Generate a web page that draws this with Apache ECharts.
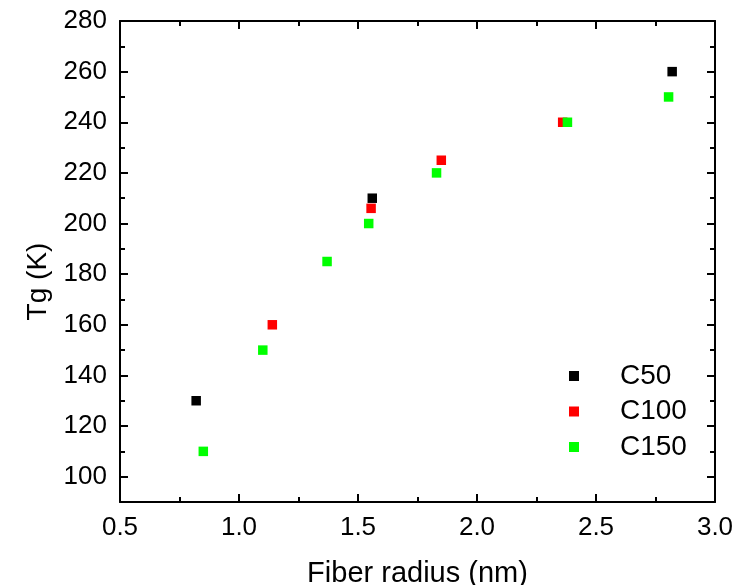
<!DOCTYPE html>
<html>
<head>
<meta charset="utf-8">
<script src="https://cdn.jsdelivr.net/npm/echarts@6/dist/echarts.min.js"></script>
<style>
  html, body { margin: 0; padding: 0; background: #fff; }
  #chart { width: 744px; height: 585px; }
</style>
</head>
<body>
<div id="chart"></div>
<script>
// fiber radius (nm) vs Tg (K)
const c50 = [[0.82, 130], [1.56, 210], [2.82, 260]]
const c100 = [[1.14, 160], [1.555, 206], [1.85, 225], [2.36, 240]]
const c150 = [[0.85, 110], [1.10, 150], [1.37, 185], [1.545, 200], [1.83, 220], [2.38, 240], [2.805, 250]]

const yMajor = [100, 120, 140, 160, 180, 200, 220, 240, 260, 280]
const yMinor = [110, 130, 150, 170, 190, 210, 230, 250, 270]

const font = 'Liberation Sans'

const chart = echarts.init(document.getElementById('chart'))

const lineStyle = { color: '#000', width: 2 }

// helper for the y axes (main one carries labels, minor one just short ticks)
function yAx (pos, major, labels) {
  return {
    type: 'value',
    position: pos,
    min: 90,
    max: 280,
    axisLine: { show: major, lineStyle: lineStyle },
    splitLine: { show: false },
    axisTick: {
      show: true,
      inside: true,
      length: major ? 8 : 5,
      customValues: major ? yMajor : yMinor,
      lineStyle: lineStyle
    },
    axisLabel: {
      show: labels,
      customValues: yMajor,
      margin: 13,
      color: '#000',
      fontFamily: font,
      fontSize: 26
    },
    name: labels ? 'Tg (K)' : '',
    nameLocation: 'middle',
    nameGap: 68,
    nameTextStyle: { color: '#000', fontFamily: font, fontSize: 28, padding: [0, 40, 0, 0] }
  }
}

function xAx (pos, labels) {
  return {
    type: 'value',
    position: pos,
    min: 0.5,
    max: 3.0,
    interval: 0.5,
    axisLine: { show: true, lineStyle: lineStyle },
    splitLine: { show: false },
    axisTick: { show: true, inside: true, length: 8, lineStyle: lineStyle },
    minorTick: { show: true, splitNumber: 2, length: 5, lineStyle: lineStyle },
    axisLabel: {
      show: labels,
      margin: 13,
      color: '#000',
      fontFamily: font,
      fontSize: 26,
      formatter: v => v.toFixed(1)
    },
    name: labels ? 'Fiber radius (nm)' : '',
    nameLocation: 'middle',
    nameGap: 57,
    nameTextStyle: { color: '#000', fontFamily: font, fontSize: 29 }
  }
}

chart.setOption({
  animation: false,
  backgroundColor: '#fff',
  grid: { left: 120, right: 29, top: 21, bottom: 83, outerBoundsMode: 'none' },
  legend: {
    orient: 'vertical',
    left: 569,
    top: 362,
    padding: 0,
    icon: 'rect',
    itemWidth: 10,
    itemHeight: 10,
    itemGap: 7.5,
    itemStyle: { opacity: 1 },
    textStyle: {
      color: '#000',
      fontFamily: font,
      fontSize: 28,
      lineHeight: 28,
      padding: [0, 0, 0, 36]
    },
    data: ['C50', 'C100', 'C150']
  },
  xAxis: [xAx('bottom', true), xAx('top', false)],
  yAxis: [
    yAx('left', true, true),
    yAx('left', false, false),
    yAx('right', true, false),
    yAx('right', false, false)
  ],
  series: [
    { name: 'C50', type: 'scatter', symbol: 'rect', symbolSize: 9.5, itemStyle: { color: '#000000', opacity: 1 }, data: c50 },
    { name: 'C100', type: 'scatter', symbol: 'rect', symbolSize: 9.5, itemStyle: { color: '#ff0000', opacity: 1 }, data: c100 },
    { name: 'C150', type: 'scatter', symbol: 'rect', symbolSize: 9.5, itemStyle: { color: '#00ff00', opacity: 1 }, data: c150 }
  ]
})
</script>
</body>
</html>
